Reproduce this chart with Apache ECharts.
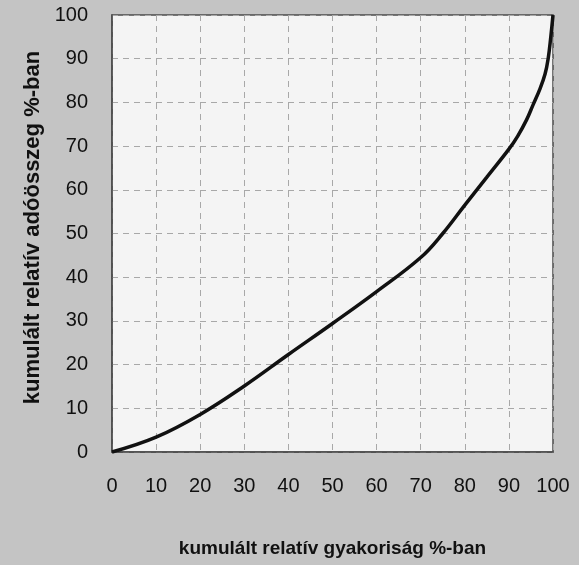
<!DOCTYPE html>
<html><head><meta charset="utf-8">
<script src="https://cdn.jsdelivr.net/npm/echarts@6/dist/echarts.min.js"></script>
<style>html,body{margin:0;padding:0;background:#c4c4c4}#c{width:579px;height:565px}</style>
</head><body><div id="c"></div>
<script>
const xValues = [0, 10, 20, 30, 40, 50, 60, 70, 75, 80, 85, 90, 92, 94, 95.5, 97, 98.2, 98.9, 99.5, 100];
const yValues = [0, 3.4, 8.6, 15.1, 22.3, 29.4, 36.7, 44.5, 50, 56.5, 62.9, 69.3, 72.3, 76, 79.5, 83, 86.5, 90, 95, 100];
const xTitle = 'kumulált relatív gyakoriság %-ban';
const yTitle = 'kumulált relatív adóösszeg %-ban';

const chart = echarts.init(document.getElementById('c'));
const ff = '"Liberation Sans", Arial, sans-serif';
chart.setOption({
  backgroundColor: '#c4c4c4',
  animation: false,
  grid: { left: 112, right: 26, top: 15, bottom: 113, show: true, backgroundColor: '#f4f4f4', borderColor: '#4a4a4a', borderWidth: 1.5 },
  xAxis: {
    type: 'value', min: 0, max: 100, interval: 10,
    name: xTitle, nameLocation: 'middle', nameGap: 87,
    nameTextStyle: { fontFamily: ff, fontSize: 19, fontWeight: 'bold', color: '#111' },
    axisLine: { show: true, lineStyle: { color: '#4a4a4a', width: 1.5 } },
    axisTick: { show: false },
    axisLabel: { fontFamily: ff, fontSize: 20, color: '#111', margin: 24 },
    splitLine: { show: true, lineStyle: { color: '#a8a8a8', type: [6, 5], width: 1 } }
  },
  yAxis: {
    type: 'value', min: 0, max: 100, interval: 10,
    name: yTitle, nameLocation: 'middle', nameGap: 68, nameRotate: 90,
    nameTextStyle: { fontFamily: ff, fontSize: 22, fontWeight: 'bold', color: '#111', padding: [0, 0, 0, 12] },
    axisLine: { show: true, lineStyle: { color: '#4a4a4a', width: 1.5 } },
    axisTick: { show: false },
    axisLabel: { fontFamily: ff, fontSize: 20, color: '#111', margin: 24 },
    splitLine: { show: true, lineStyle: { color: '#a8a8a8', type: [6, 5], width: 1 } }
  },
  series: [{
    type: 'line',
    data: xValues.map((x, i) => [x, yValues[i]]),
    smooth: 0.4,
    showSymbol: false,
    lineStyle: { color: '#111', width: 3.5 },
    clip: false
  }]
});
</script></body></html>
